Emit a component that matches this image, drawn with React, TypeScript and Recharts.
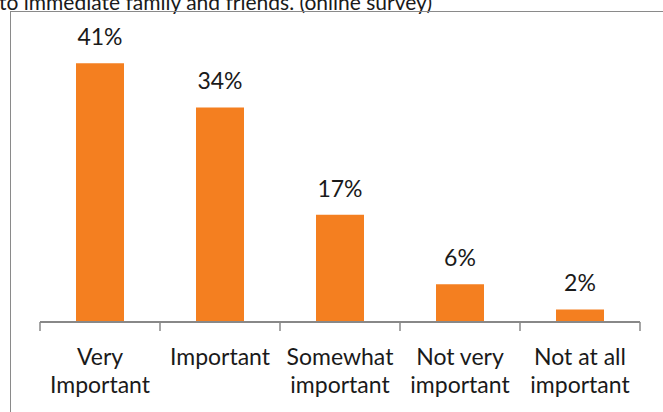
import React from "react";
import { BarChart, Bar, XAxis, YAxis, LabelList } from "recharts";

const categories = [
  "Very Important",
  "Important",
  "Somewhat important",
  "Not very important",
  "Not at all important",
];
const tickLabelLines: string[][] = [
  ["Very", "Important"],
  ["Important"],
  ["Somewhat", "important"],
  ["Not very", "important"],
  ["Not at all", "important"],
];
const values = [41, 34, 17, 6, 2];
const titleText = "to immediate family and friends. (online survey)";

const data = categories.map((c, i) => ({ category: c, value: values[i] }));

const FONT = "Lato, 'Open Sans', sans-serif";
const AXIS_COLOR = "#888888";

function CategoryTick(props: any) {
  const { x, y, payload, index, visibleTicksCount } = props;
  const half = payload && payload.offset ? payload.offset : 0;
  const lines = tickLabelLines[index] || [String(payload.value)];
  const isLast = index === visibleTicksCount - 1;
  return (
    <g>
      <line x1={x - half} y1={y} x2={x - half} y2={y + 9} stroke={AXIS_COLOR} strokeWidth={1.5} />
      {isLast && (
        <line x1={x + half} y1={y} x2={x + half} y2={y + 9} stroke={AXIS_COLOR} strokeWidth={1.5} />
      )}
      <text x={x} y={y + 43} textAnchor="middle" fill="#1a1a1a" fontSize={23} fontFamily={FONT}>
        {lines.map((l, i) => (
          <tspan key={i} x={x} dy={i === 0 ? 0 : 28}>
            {l}
          </tspan>
        ))}
      </text>
    </g>
  );
}

export default function App() {
  return (
    <div
      style={{
        position: "fixed",
        top: 0,
        left: 0,
        width: 663,
        height: 412,
        overflow: "hidden",
        background: "#fff",
        fontFamily: FONT,
      }}
    >
      <div
        style={{
          position: "absolute",
          left: -1,
          top: -9,
          fontSize: 21,
          lineHeight: "21px",
          color: "#1a1a1a",
          whiteSpace: "nowrap",
        }}
      >
        {titleText}
      </div>
      <div
        style={{
          position: "absolute",
          left: 10,
          top: 11,
          width: 700,
          height: 450,
          border: "1.5px solid #8a8a8a",
          boxSizing: "border-box",
        }}
      />
      <div style={{ position: "absolute", left: 0, top: 0 }}>
        <BarChart
          width={663}
          height={412}
          data={data}
          margin={{ top: 38, right: 23, bottom: 30, left: 40 }}
          barCategoryGap="30%"
        >
          <XAxis
            dataKey="category"
            height={60}
            interval={0}
            tickLine={false}
            tickSize={0}
            tickMargin={0}
            axisLine={{ stroke: AXIS_COLOR, strokeWidth: 2 }}
            tick={<CategoryTick />}
          />
          <YAxis hide domain={[0, 45]} />
          <Bar dataKey="value" fill="#F47F20" isAnimationActive={false}>
            <LabelList
              dataKey="value"
              position="top"
              offset={18}
              formatter={(v: any) => `${v}%`}
              style={{ fontSize: 23, fontFamily: FONT, fill: "#1a1a1a" }}
            />
          </Bar>
        </BarChart>
      </div>
    </div>
  );
}
